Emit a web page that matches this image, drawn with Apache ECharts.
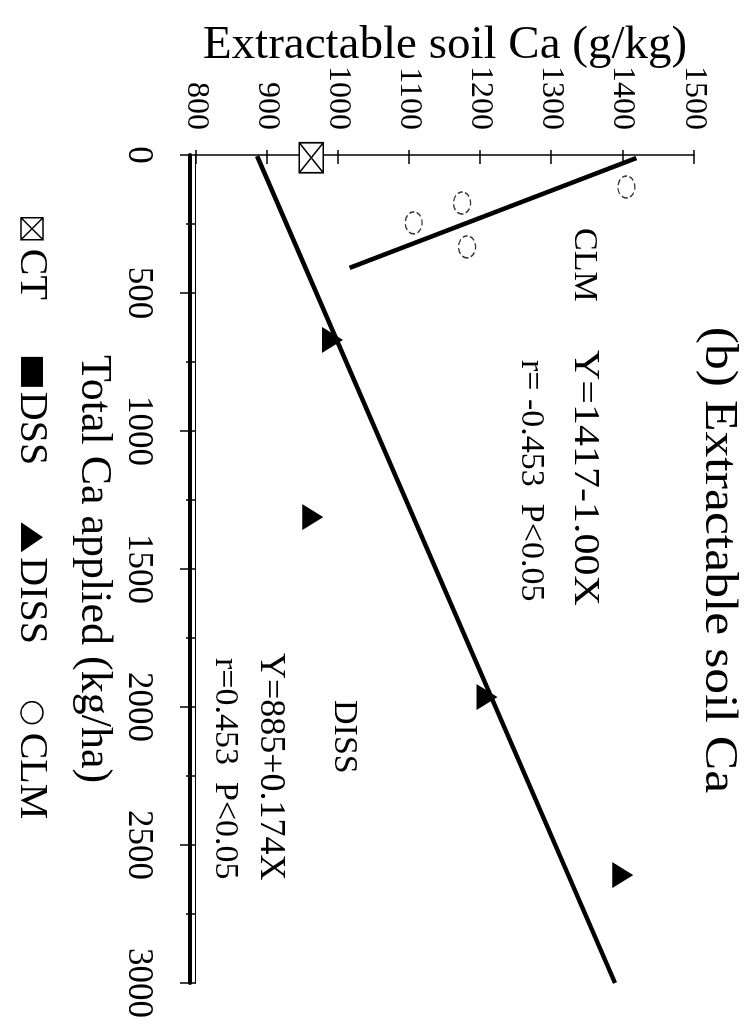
<!DOCTYPE html>
<html><head><meta charset="utf-8">
<script src="https://cdn.jsdelivr.net/npm/echarts@6/dist/echarts.min.js"></script>
<style>
html,body{margin:0;padding:0;background:#fff;overflow:hidden;width:754px;height:1024px;}
#wrap{position:absolute;left:0;top:0;width:1024px;height:754px;transform-origin:0 0;transform:translate(754px,0) rotate(90deg);}
#chart{width:1024px;height:754px;}
</style></head><body>
<div id="wrap"><div id="chart"></div></div>
<script>
// Data (x = Total Ca applied, kg/ha ; y = Extractable soil Ca)
const xTickValues = [0, 500, 1000, 1500, 2000, 2500, 3000];
const yTickValues = [800, 900, 1000, 1100, 1200, 1300, 1400, 1500];
const ctPoints = [[10, 962]];
const dssPoints = [];
const dissPoints = [[670, 992], [1312, 964], [1964, 1209], [2609, 1400]];
const clmPoints = [[116, 1405], [174, 1174], [246, 1106], [333, 1181]];
const clmFit = [[11, 1419], [409, 1016]];
const dissFit = [[4, 886], [3000, 1389]];
const legendNames = ['CT', 'DSS', 'DISS', 'CLM'];
const titleText = '(b) Extractable soil Ca';
const xName = 'Total Ca applied (kg/ha)';
const yName = 'Extractable soil Ca (g/kg)';
const clmEq = ['CLM', 'Y=1417-1.00X', 'r= -0.453  P<0.05'];
const dissEq = ['DISS', 'Y=885+0.174X', 'r=0.453  P<0.05'];

const FF = '"Liberation Serif", "Times New Roman", serif';
const ctIcon = 'path://M0,0L10,0L10,10L0,10Z M0,0L10,10 M10,0L0,10';

function txt(text, x, y, size, align, sx) {
  return {type:'text', x:x, y:y, scaleX: sx || 1, silent:true,
    style:{text:text, font: size + 'px ' + FF, fill:'#000',
      textAlign: align, align: align, textVerticalAlign:'middle', verticalAlign:'middle'}};
}
const plain = v => String(v);

const chart = echarts.init(document.getElementById('chart'), null, {renderer:'canvas'});
chart.setOption({
  backgroundColor:'#fff',
  animation:false,
  grid:{left:155, right:41, top:60, bottom:196, containLabel:false},
  legend:{
    left:212, top:697, orient:'horizontal',
    itemWidth:30, itemHeight:22, itemGap:57,
    textStyle:{fontSize:40, fontFamily:FF, color:'#000'},
    data:[
      {name:legendNames[0], icon:ctIcon, itemStyle:{color:'#fff', borderColor:'#000', borderWidth:1.5, opacity:1}},
      {name:legendNames[1], icon:'rect', itemStyle:{color:'#000', opacity:1}},
      {name:legendNames[2], icon:'triangle', itemStyle:{color:'#000', opacity:1}},
      {name:legendNames[3], icon:'circle', itemStyle:{color:'#fff', borderColor:'#000', borderWidth:1.5, borderType:'solid', opacity:1}}
    ]
  },
  xAxis:[
    {type:'value', min:xTickValues[0], max:xTickValues[xTickValues.length-1], interval:500,
     position:'bottom',
     axisLine:{show:true, onZero:false, lineStyle:{color:'#000', width:1.2}},
     axisTick:{show:true, length:16, lineStyle:{color:'#000', width:1.5}},
     minorTick:{show:true, splitNumber:2, length:10, lineStyle:{color:'#000', width:1.5}},
     axisLabel:{margin:40, fontSize:35, fontFamily:FF, color:'#000', formatter:plain},
     splitLine:{show:false},
     name:xName, nameLocation:'middle', nameGap:80,
     nameTextStyle:{fontSize:44, fontFamily:FF, color:'#000'}},
    {type:'value', min:xTickValues[0], max:xTickValues[xTickValues.length-1],
     position:'bottom', offset:6,
     axisLine:{show:true, onZero:false, lineStyle:{color:'#000', width:4}},
     axisTick:{show:false}, axisLabel:{show:false}, splitLine:{show:false}}
  ],
  yAxis:[
    {type:'value', min:yTickValues[0], max:yTickValues[yTickValues.length-1], interval:100,
     position:'left',
     axisLine:{show:true, onZero:false, lineStyle:{color:'#000', width:1.5}},
     axisTick:{show:true, length:5, lineStyle:{color:'#000', width:1.5}},
     axisLabel:{margin:25, fontSize:32, fontFamily:FF, color:'#000', formatter:plain},
     splitLine:{show:false},
     name:yName, nameLocation:'middle', nameGap:86, nameRotate:90, nameMoveOverlap:false,
     nameTextStyle:{fontSize:47, fontFamily:FF, color:'#000'}},
    {type:'value', min:yTickValues[0], max:yTickValues[yTickValues.length-1], interval:100,
     position:'left',
     axisLine:{show:false, onZero:false},
     axisTick:{show:true, inside:true, length:9, lineStyle:{color:'#000', width:1.5}},
     axisLabel:{show:false}, splitLine:{show:false}}
  ],
  series:[
    {name:'fitDISS', type:'line', data:dissFit, symbol:'none', silent:true, z:1,
     lineStyle:{color:'#000', width:4.5}},
    {name:'fitCLM', type:'line', data:clmFit, symbol:'none', silent:true, z:1,
     lineStyle:{color:'#000', width:4.5}},
    {name:'CT', type:'scatter', data:ctPoints, symbol:ctIcon, symbolSize:[30,24], z:3,
     itemStyle:{color:'#fff', borderColor:'#000', borderWidth:1.5, opacity:1}},
    {name:'DSS', type:'scatter', data:dssPoints, symbol:'rect', symbolSize:20, z:3,
     itemStyle:{color:'#000', opacity:1}},
    {name:'DISS', type:'scatter', data:dissPoints, symbol:'triangle', symbolSize:[26,21], z:3,
     itemStyle:{color:'#000', opacity:1}},
    {name:'CLM', type:'scatter', data:clmPoints, symbol:'circle', symbolSize:[22,17], z:3,
     itemStyle:{color:'rgba(255,255,255,0)', borderColor:'#333', borderWidth:1.4, borderType:'dashed', opacity:1}}
  ],
  graphic:[
    txt(titleText, 560, 36, 47, 'center', 1.1),
    txt(clmEq[0], 228, 170, 34, 'left'),
    txt(clmEq[1], 350, 170, 35, 'left', 1.2),
    txt(clmEq[2], 360, 223, 34, 'left'),
    txt(dissEq[0], 700, 410, 34, 'left'),
    txt(dissEq[1], 653, 484, 36, 'left'),
    txt(dissEq[2], 658, 529, 34, 'left')
  ]
});
</script>
</body></html>
